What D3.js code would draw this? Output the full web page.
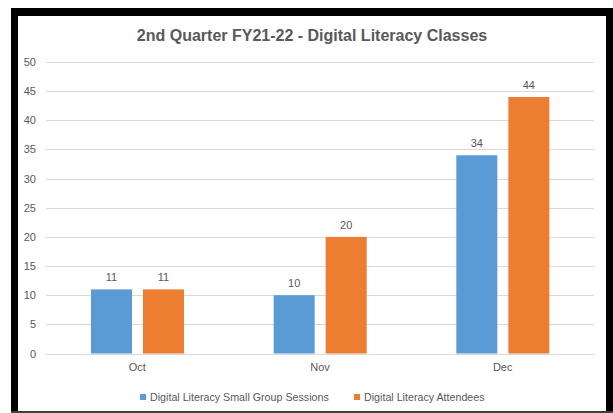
<!DOCTYPE html>
<html><head><meta charset="utf-8">
<script src="https://cdn.jsdelivr.net/npm/d3@7"></script>
<style>body{margin:0;background:#fff}svg{display:block}</style>
</head><body>
<svg id="c" width="613" height="413"></svg>
<script>
const title = "2nd Quarter FY21-22 - Digital Literacy Classes";
const categories = ["Oct", "Nov", "Dec"];
const seriesNames = ["Digital Literacy Small Group Sessions", "Digital Literacy Attendees"];
const sessions = [11, 10, 34];
const attendees = [11, 20, 44];
const yTicks = [0, 5, 10, 15, 20, 25, 30, 35, 40, 45, 50];
const colors = ["#5B9BD5", "#ED7D31"];

const svg = d3.select("#c");
const font = "'Liberation Sans', Arial, sans-serif";
const txt = "#595959";

// frame
svg.append("rect").attr("x",0).attr("y",0).attr("width",613).attr("height",413).attr("fill","#fff");
svg.append("rect").attr("x",11).attr("y",8).attr("width",602).attr("height",8).attr("fill","#000");
svg.append("rect").attr("x",11).attr("y",8).attr("width",7).attr("height",405).attr("fill","#000");
svg.append("rect").attr("x",606).attr("y",8).attr("width",7).attr("height",405).attr("fill","#000");
svg.append("rect").attr("x",11).attr("y",411).attr("width",602).attr("height",2).attr("fill","#404040");

const x0 = d3.scaleBand().domain(categories).range([46, 594]);
const bw = x0.bandwidth();
const x1 = d3.scaleBand().domain(seriesNames).range([bw*0.2463, bw*0.7555]).paddingInner(0.2115);
const y = d3.scaleLinear().domain([0, 50]).range([353.5, 62]);

// gridlines
svg.append("g").selectAll("line").data(yTicks).join("line")
  .attr("x1", 46).attr("x2", 594)
  .attr("y1", d => Math.round(y(d))+0.5).attr("y2", d => Math.round(y(d))+0.5)
  .attr("stroke", "#D9D9D9").attr("stroke-width", 1);

// y axis labels
const yAxis = d3.axisLeft(y).tickValues(yTicks).tickSize(0).tickPadding(0);
const ya = svg.append("g").attr("transform","translate(36,0)").call(yAxis);
ya.select(".domain").remove();
ya.selectAll("text").attr("font-family", font).attr("font-size", 11).attr("fill", txt);

// x axis labels
const xAxis = d3.axisBottom(x0).tickSize(0).tickPadding(0);
const xa = svg.append("g").attr("transform","translate(0,363)").call(xAxis);
xa.select(".domain").remove();
xa.selectAll("text").attr("font-family", font).attr("font-size", 11).attr("fill", txt);

const series = [sessions, attendees];
series.forEach((vals, si) => {
  const g = svg.append("g");
  g.selectAll("rect").data(vals).join("rect")
    .attr("x", (d,i) => x0(categories[i]) + x1(seriesNames[si]))
    .attr("width", x1.bandwidth())
    .attr("y", d => y(d))
    .attr("height", d => y(0) - y(d))
    .attr("fill", colors[si]);
  g.selectAll("text").data(vals).join("text")
    .attr("x", (d,i) => x0(categories[i]) + x1(seriesNames[si]) + x1.bandwidth()/2)
    .attr("y", d => y(d) - 8)
    .attr("text-anchor", "middle")
    .attr("font-family", font).attr("font-size", 11).attr("fill", txt)
    .text(d => d);
});

// title
svg.append("text").attr("x", 312).attr("y", 41).attr("text-anchor","middle")
  .attr("font-family", font).attr("font-size", 16).attr("font-weight","bold").attr("fill", txt)
  .text(title);

// legend
const legX = [140, 354];
seriesNames.forEach((n, i) => {
  svg.append("rect").attr("x", legX[i]).attr("y", 394).attr("width", 6).attr("height", 6).attr("fill", colors[i]);
  svg.append("text").attr("x", legX[i] + 10).attr("y", 400.5)
    .attr("font-family", font).attr("font-size", 10.7).attr("fill", txt).text(n);
});
</script>
</body></html>
